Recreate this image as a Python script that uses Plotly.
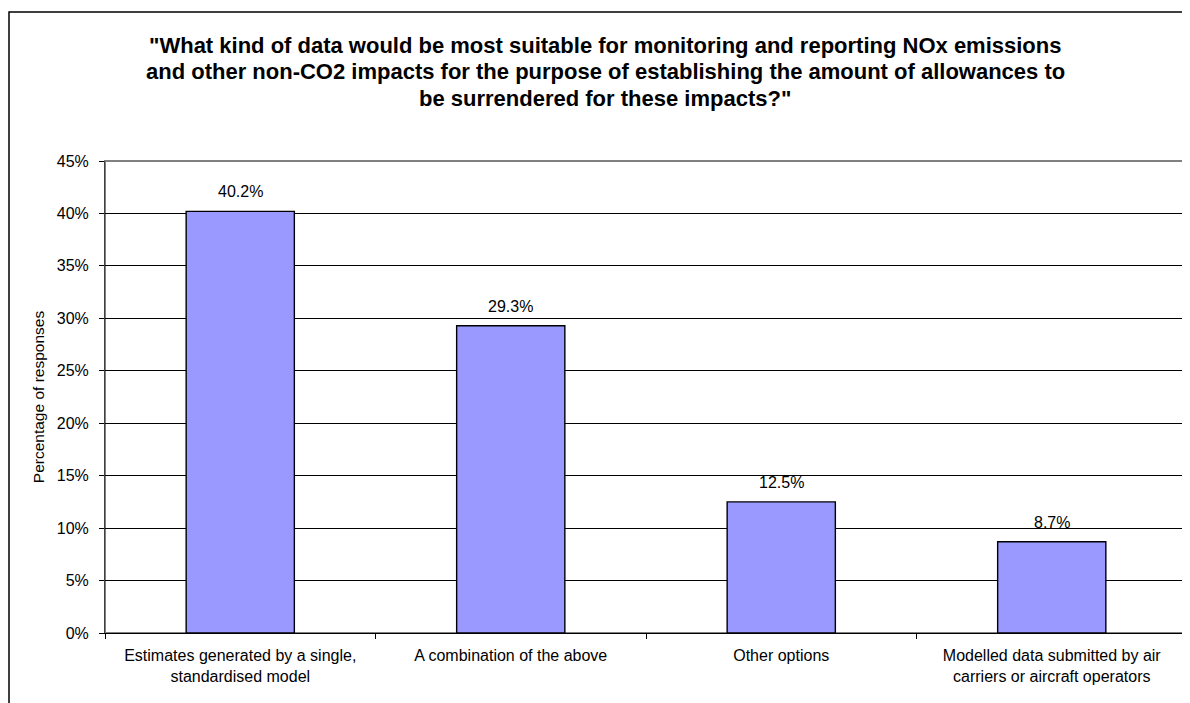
import plotly.graph_objects as go

# categorías y valores (fracción de respuestas)
categorias = [
    "Estimates generated by a single,<br>standardised model",
    "A combination of the above",
    "Other options",
    "Modelled data submitted by air<br>carriers or aircraft operators",
]
valores = [0.402, 0.293, 0.125, 0.087]

titulo = [
    '"What kind of data would be most suitable for monitoring and reporting NOx emissions',
    "and other non-CO2 impacts for the purpose of establishing the amount of allowances to",
    'be surrendered for these impacts?"',
]

FONT = "Liberation Sans, Arial, sans-serif"
W, H = 1190, 703
L, R, T, B = 97, 11, 153, 78
PW, PH = W - L - R, H - T - B

fig = go.Figure()
fig.add_trace(go.Bar(
    x=categorias,
    y=valores,
    width=0.4,
    marker=dict(color="#9999FF", line=dict(color="black", width=1.4)),
    cliponaxis=False,
))

# etiquetas de datos sobre las barras
for c, v in zip(categorias, valores):
    fig.add_annotation(x=c, y=v, text=f"{v:.1%}", showarrow=False,
                       yanchor="bottom", yshift=9,
                       font=dict(family=FONT, size=16, color="black"))

fig.update_layout(
    width=W, height=H,
    margin=dict(l=L, r=R, t=T, b=B),
    paper_bgcolor="white", plot_bgcolor="white",
    font=dict(family=FONT, size=15, color="black"),
    showlegend=False,
)

fig.update_xaxes(
    showline=True, linecolor="black", linewidth=1,
    ticks="outside", tickson="boundaries", ticklen=5, tickcolor="black",
    showgrid=False, automargin=False,
    tickfont=dict(size=16), ticklabelstandoff=8,
)
fig.update_yaxes(
    range=[0, 0.45], dtick=0.05, tickformat=".0%",
    showline=True, linecolor="#404040", linewidth=1,
    ticks="outside", ticklen=5, tickcolor="black",
    showgrid=True, gridcolor="black", gridwidth=1,
    zeroline=False, automargin=False,
    ticklabelstandoff=7,
    title=dict(text="Percentage of responses", font=dict(size=15.5), standoff=8),
    tickfont=dict(size=16),
)

# borde gris del área de trazado (arriba y derecha)
fig.add_shape(type="rect", xref="paper", yref="paper", x0=0, y0=0, x1=1, y1=1,
              line=dict(color="#808080", width=2), layer="below")

# borde exterior del gráfico
fig.add_shape(type="rect", xref="paper", yref="paper",
              x0=(1 - L) / PW, y0=-0.3, x1=1.1, y1=(T + PH - 4) / PH,
              line=dict(color="black", width=1.5))

for i, linea in enumerate(titulo):
    fig.add_annotation(
        text=f"<b>{linea}</b>", xref="paper", yref="paper",
        x=(597 - L) / PW, xanchor="center",
        y=(T + PH - 52 - i * 26.5) / PH, yanchor="bottom",
        showarrow=False, font=dict(family=FONT, size=22, color="black"),
    )

fig.write_html("out.html")
